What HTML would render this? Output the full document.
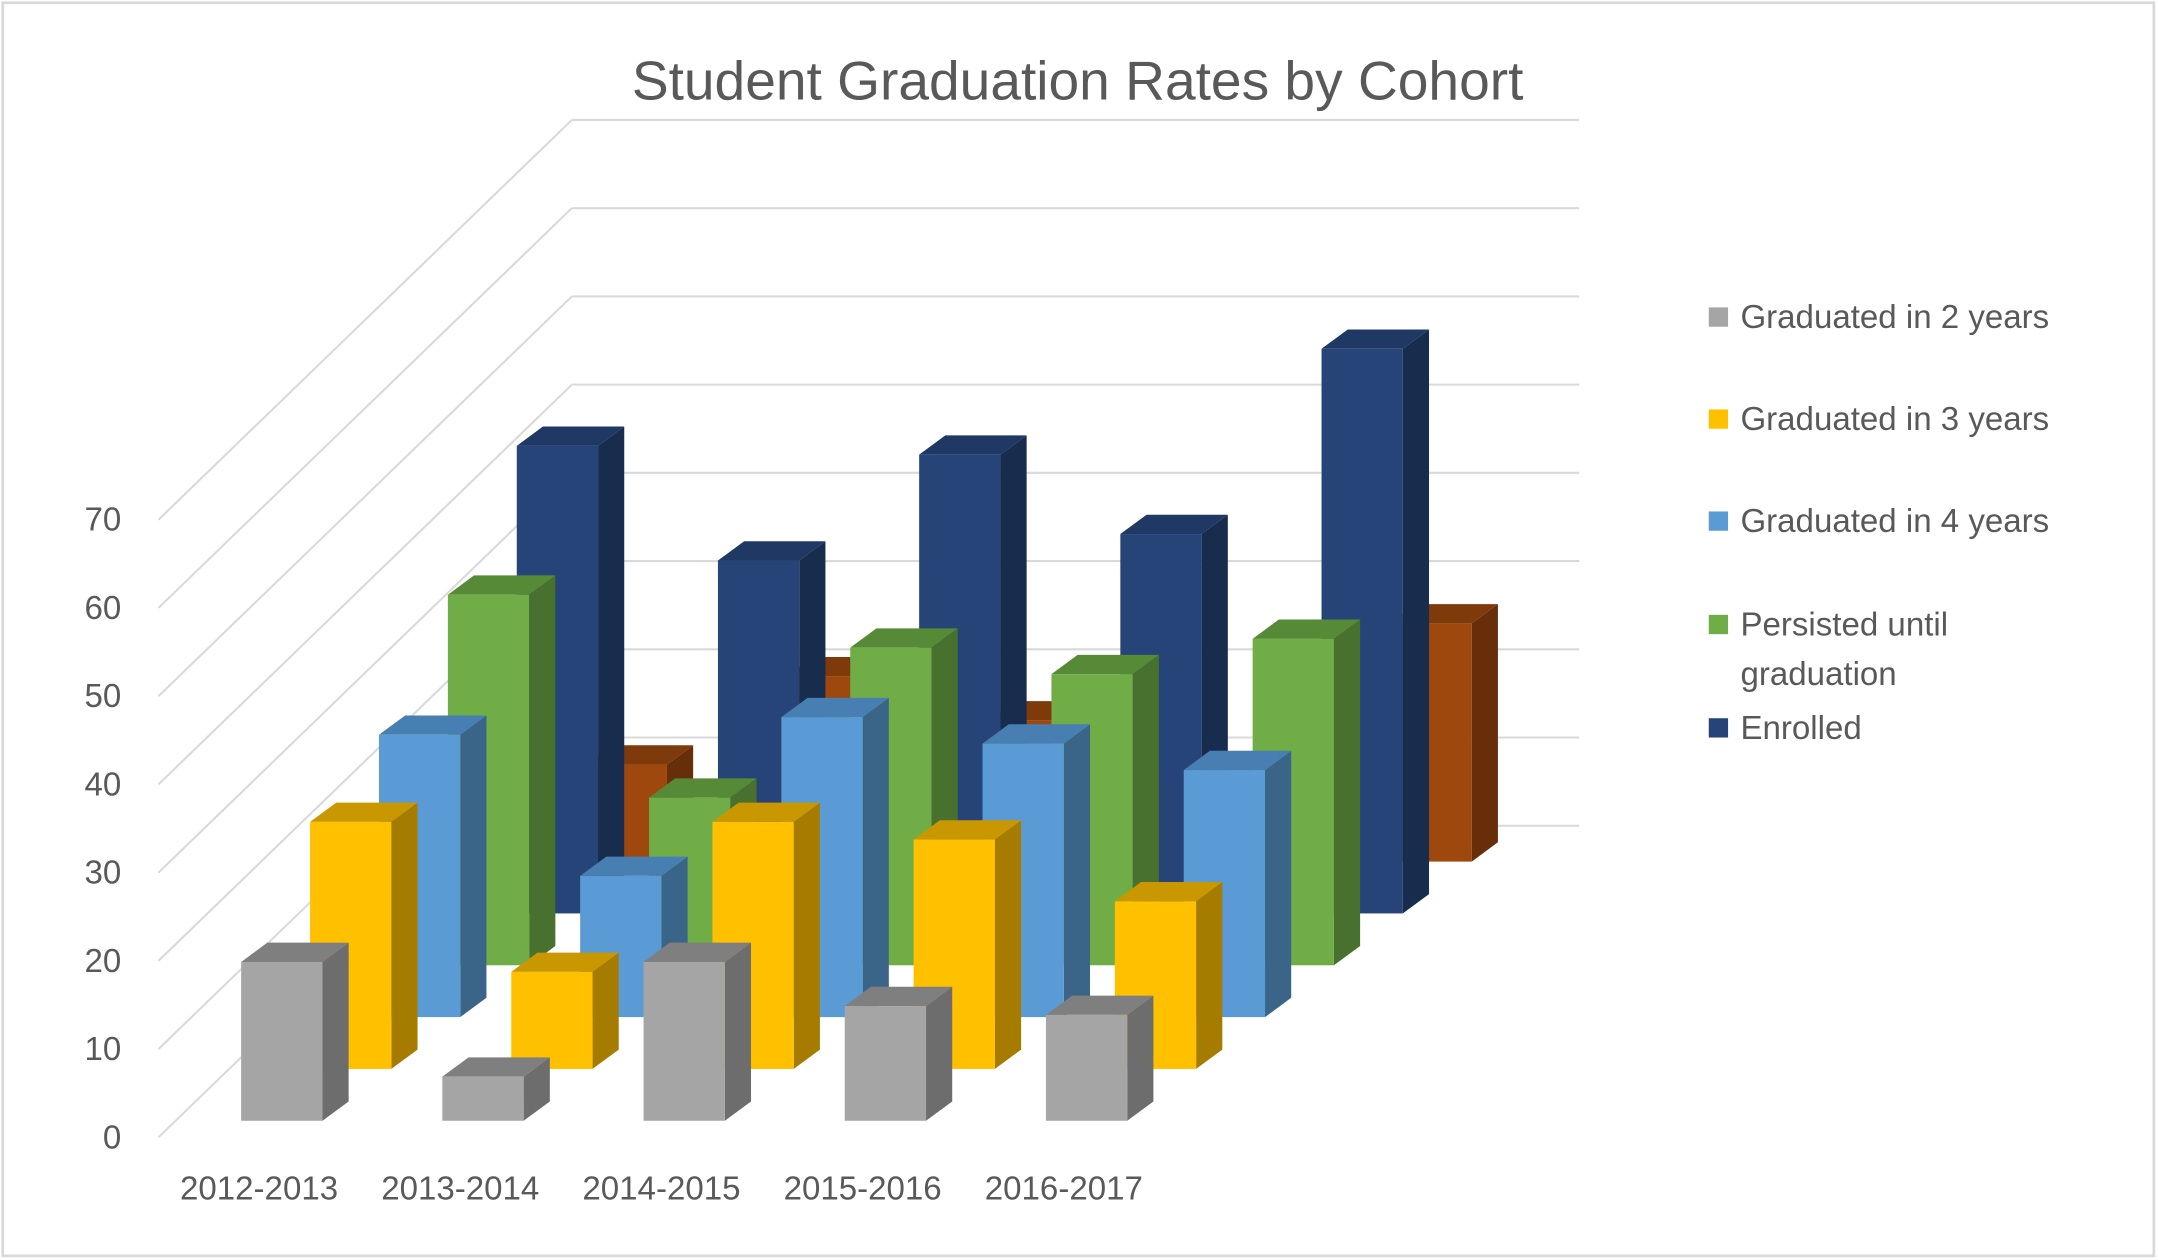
<!DOCTYPE html>
<html><head><meta charset="utf-8"><style>
html,body{margin:0;padding:0;background:#fff;}
svg{display:block;font-family:"Liberation Sans",sans-serif;}
</style></head><body>
<svg id="chart" width="2158" height="1260" viewBox="0 0 1566 914" preserveAspectRatio="none" xmlns="http://www.w3.org/2000/svg">
<rect x="2" y="2" width="1561" height="909" fill="#fff" stroke="#d9d9d9" stroke-width="2"/>
<text x="782" y="72" text-anchor="middle" font-size="40" fill="#595959">Student Graduation Rates by Cohort</text>
<g id="grid"></g>
<g id="bars"></g>
<g id="axes"></g>
<g id="legend"></g>
</svg>
<script>
const categories = ["2012-2013","2013-2014","2014-2015","2015-2016","2016-2017"];
const yTicks = [0,10,20,30,40,50,60,70];
const grad2 = [18,5,18,13,12];
const grad3 = [28,11,28,26,19];
const grad4 = [32,16,34,31,28];
const persisted = [42,19,36,33,37];
const enrolled = [53,40,52,43,64];
const other = [11,21,16,10,27];
const seriesNames = ["Graduated in 2 years","Graduated in 3 years","Graduated in 4 years","Persisted until graduation","Enrolled",""];

const NS="http://www.w3.org/2000/svg";
const PX=6.4;
function yScale(v, depth){ return 813 - depth*37.6 - v*PX; }
function xScale(i, depth){ return 175 + i*146 + depth*50; }
function mk(tag, attrs, parent){ const e=document.createElementNS(NS,tag); for(const k in attrs) e.setAttribute(k,attrs[k]); parent.appendChild(e); return e; }

const grid=document.getElementById('grid');
for(let k=0;k<=8;k++){
  const v=k*10;
  const yb=599-v*PX;
  const l=mk('line',{x1:415,y1:yb,x2:1146,y2:yb,stroke:'#d9d9d9','stroke-width':1.5},grid);
  
  
  if(k<=7){
    const d=mk('line',{x1:115,y1:825-v*PX,x2:415,y2:yb-64,stroke:'#d9d9d9','stroke-width':1.5},grid);
    
    
  }
}

const series=[grad2,grad3,grad4,persisted,enrolled,other];
const colors=[
 ["#a5a5a5","#7f7f7f","#6d6d6d"],
 ["#ffc000","#c99700","#a67c00"],
 ["#5b9bd5","#477fb2","#3a6589"],
 ["#70ad47","#578a37","#48702e"],
 ["#264478","#1f3864","#182c4d"],
 ["#9e480e","#7f3a0b","#662f09"]];
const bars=document.getElementById('bars');
const W=59, DX=19, DY=14;
for(let s=series.length-1;s>=0;s--){
  const vals=series[s];
  for(let i=0;i<vals.length;i++){
    const x=xScale(i,s), yb=yScale(0,s), yt=yScale(vals[i],s);
    const g=mk('g',{},bars);
    
    
    mk('polygon',{points:`${x+W},${yt} ${x+W+DX},${yt-DY} ${x+W+DX},${yb-DY} ${x+W},${yb}`,fill:colors[s][2]},g);
    mk('polygon',{points:`${x},${yt} ${x+DX},${yt-DY} ${x+W+DX},${yt-DY} ${x+W},${yt}`,fill:colors[s][1]},g);
    mk('rect',{x:x,y:yt,width:W,height:yb-yt,fill:colors[s][0]},g);
  }
}

const axes=document.getElementById('axes');
yTicks.forEach(v=>{
  const t=mk('text',{x:88,y:825-v*PX+8,'text-anchor':'end','font-size':24,fill:'#595959'},axes);
  t.textContent=v;
  
  
});
categories.forEach((c,i)=>{
  const t=mk('text',{x:xScale(i,0)+13,y:870,'text-anchor':'middle','font-size':24,fill:'#595959'},axes);
  t.textContent=c;
  
  
});

const legend=document.getElementById('legend');
const legY=[230,304,378,453,528];
for(let s=0;s<5;s++){
  const g=mk('g',{},legend);
  
  
  mk('rect',{x:1240,y:legY[s]-7,width:14,height:14,fill:colors[s][0]},g);
  const t=mk('text',{x:1263,y:legY[s]+8,'font-size':24,fill:'#595959'},g);
  if(s===3){
    t.textContent="Persisted until";
    const t2=mk('text',{x:1263,y:legY[s]+44,'font-size':24,fill:'#595959'},g);
    t2.textContent="graduation";
  } else t.textContent=seriesNames[s];
}
</script>
</body></html>
